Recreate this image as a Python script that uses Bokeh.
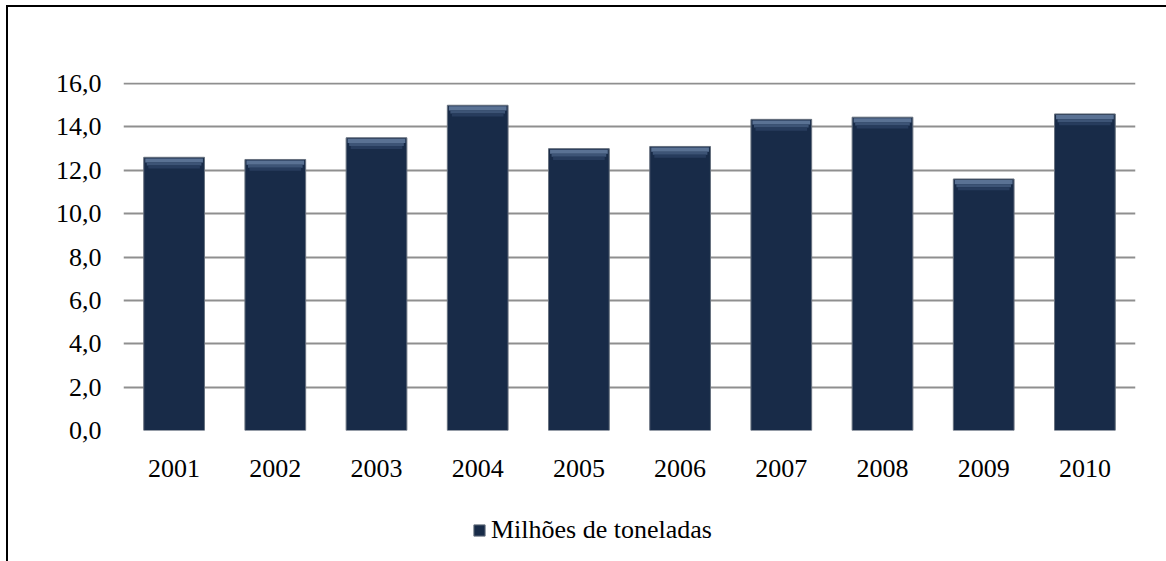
from bokeh.plotting import figure
from bokeh.layouts import column
from bokeh.models import (ColumnDataSource, FactorRange, Range1d, FixedTicker,
                          CustomJSTickFormatter, Legend, LegendItem)
from bokeh.embed import file_html
from bokeh.resources import INLINE

years = ["2001", "2002", "2003", "2004", "2005", "2006", "2007", "2008", "2009", "2010"]
values = [12.6, 12.5, 13.5, 15.0, 13.0, 13.1, 14.35, 14.45, 11.6, 14.6]
series_name = "Milhões de toneladas"
y_ticks = [0, 2, 4, 6, 8, 10, 12, 14, 16]

FONT = "Liberation Serif"
FS = "26px"
BAR = "#182b48"
EDGE = "#66707e"

src = ColumnDataSource(dict(
    x=years,
    top=values,
    b1t=[v - 0.05 for v in values], b1b=[v - 0.24 for v in values],
    b2t=[v - 0.24 for v in values], b2b=[v - 0.38 for v in values],
    b3t=[v - 0.38 for v in values], b3b=[v - 0.52 for v in values],
))

# canvas starts at page (8, 7) because of the 6/5 px margin and 2px border
p = figure(x_range=FactorRange(*years), y_range=Range1d(0, 16.05),
           width=1158, height=483, output_backend="svg", toolbar_location=None,
           min_border_left=115, min_border_right=31, min_border_top=75,
           min_border_bottom=60)
p.outline_line_color = None

bars = p.vbar(x="x", top="top", bottom=0, width=0.6, source=src,
              fill_color=BAR, line_color=EDGE, line_width=1)
p.vbar(x="x", top="b1t", bottom="b1b", width=0.57, source=src,
       fill_color="#5a7294", line_color=None)
p.vbar(x="x", top="b2t", bottom="b2b", width=0.54, source=src,
       fill_color="#3d5476", line_color=None)
p.vbar(x="x", top="b3t", bottom="b3b", width=0.51, source=src,
       fill_color="#273c5d", line_color=None)

# grid
p.xgrid.grid_line_color = None
p.ygrid.ticker = FixedTicker(ticks=y_ticks)
p.ygrid.grid_line_color = "#8f8f8f"
p.ygrid.grid_line_width = 2
p.ygrid.level = "underlay"

# axes
p.yaxis.ticker = FixedTicker(ticks=y_ticks)
p.yaxis.formatter = CustomJSTickFormatter(code="return tick.toFixed(1).replace('.', ',');")
for ax in (p.xaxis[0], p.yaxis[0]):
    ax.axis_line_color = None
    ax.major_tick_line_color = None
    ax.minor_tick_line_color = None
    ax.major_label_text_font = FONT
    ax.major_label_text_font_size = FS
    ax.major_label_text_color = "#000000"
p.yaxis.major_label_standoff = 16
p.xaxis.major_label_standoff = 23

# legend strip below the chart
p2 = figure(x_range=p.x_range, y_range=Range1d(100, 101),
            width=1158, height=71, output_backend="svg", toolbar_location=None,
            min_border=0, min_border_left=0, min_border_right=0,
            min_border_top=0, min_border_bottom=0)
p2.outline_line_color = None
p2.axis.visible = False
p2.grid.visible = False
lbars = p2.vbar(x="x", top="top", bottom=0, width=0.6, source=src,
                fill_color=BAR, line_color=EDGE, line_width=1)
legend = Legend(items=[LegendItem(label=series_name, renderers=[lbars])],
                location=(349, 16), orientation="horizontal",
                label_text_font=FONT, label_text_font_size=FS,
                label_text_color="#000000",
                glyph_width=14, glyph_height=14, label_standoff=5,
                border_line_color=None, background_fill_alpha=0,
                margin=0, padding=4)
p2.add_layout(legend, "center")

layout = column(p, p2, spacing=0)
layout.margin = (5, 0, 0, 6)
layout.styles = {"border-left": "2px solid #000000", "border-top": "2px solid #000000"}

open("out.html", "w").write(file_html(layout, INLINE))
